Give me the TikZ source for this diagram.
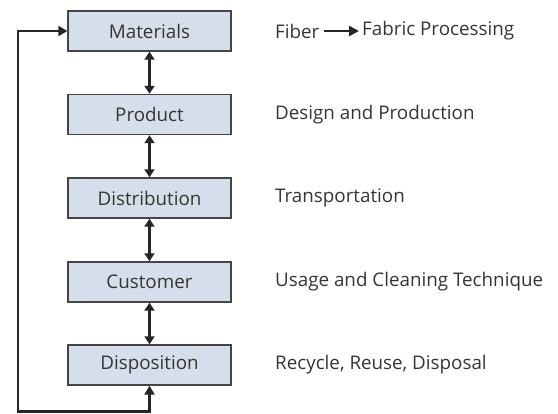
\documentclass[tikz,border=0pt]{standalone}
\usepackage{fontspec}
\setmainfont{Open Sans}
\usetikzlibrary{arrows.meta}
\definecolor{boxfill}{HTML}{D5DEEA}
\definecolor{boxline}{HTML}{454545}
\definecolor{txt}{HTML}{353535}
\tikzset{
  stage/.style={draw=boxline, line width=1.4pt, fill=boxfill, minimum width=163pt, minimum height=40pt, inner sep=0pt, font=\fontsize{18.8}{22}\selectfont, text=txt},
  desc/.style={anchor=west, inner sep=0pt, font=\fontsize{18.8}{22}\selectfont, text=txt},
  link/.style={line width=2.2pt, draw=black!85, {Triangle[length=8pt,width=10pt]}-{Triangle[length=8pt,width=10pt]}},
  loopline/.style={line width=2.6pt, draw=black!85, {Triangle[length=9pt,width=10pt]}-{Triangle[length=9pt,width=10pt]}}
}
\begin{document}
\begin{tikzpicture}[x=1pt,y=-1pt]
\useasboundingbox (0,0) rectangle (558,414);
\node[stage] (mat) at (149.5,31) {Materials};
\node[stage] (prod) at (149.5,114.5) {Product};
\node[stage] (dist) at (149.5,198) {Distribution};
\node[stage] (cust) at (149.5,282) {Customer};
\node[stage] (disp) at (149.5,365) {Disposition};
\draw[link] (mat) -- (prod);
\draw[link] (prod) -- (dist);
\draw[link] (dist) -- (cust);
\draw[link] (cust) -- (disp);
\coordinate (c1) at (149.5,411.5);
\coordinate (c2) at (18,411.5);
\coordinate (c3) at (18,31);
\draw[loopline] (disp.south) -- (c1) -- (c2) -- (c3) -- (mat.west);
\node[desc] (fiber) at (275,31) {Fiber};
\node[desc] (fabric) at (362,31) {Fabric Processing};
\draw[line width=2.2pt, draw=black!85, -{Triangle[length=10pt,width=10pt]}] (fiber.east) ++(4,0) coordinate (a0) -- ([xshift=-3pt]fabric.west);
\node[desc] (d2) at (275,114.5) {Design and Production};
\node[desc] (d3) at (275,198) {Transportation};
\node[desc] (d4) at (275,282) {Usage and Cleaning Technique};
\node[desc] (d5) at (275,365) {Recycle, Reuse, Disposal};
\end{tikzpicture}
\end{document}
